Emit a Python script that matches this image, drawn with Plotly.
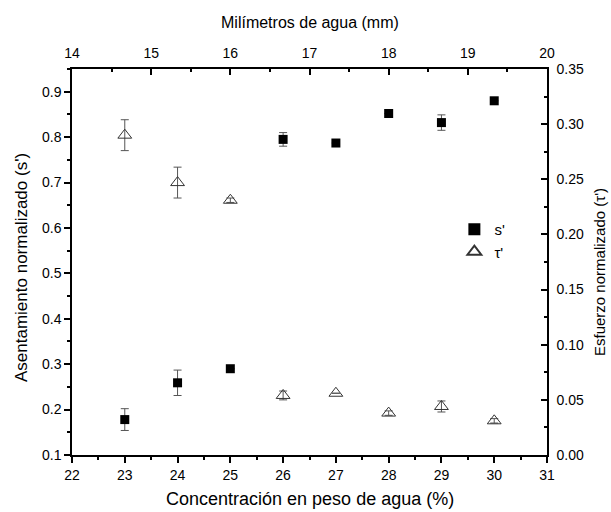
import plotly.graph_objects as go

conc = [23, 24, 25, 26, 27, 28, 29, 30]
s_vals = [0.178, 0.259, 0.290, 0.795, 0.787, 0.852, 0.832, 0.880]
s_err = [0.024, 0.028, 0.0, 0.015, 0.0, 0.0, 0.017, 0.0]
tau_vals = [0.290, 0.247, 0.231, 0.054, 0.056, 0.038, 0.044, 0.031]
tau_err = [0.014, 0.014, 0.002, 0.004, 0.0, 0.002, 0.005, 0.002]

title_bottom = "Concentración en peso de agua (%)"
title_top = "Milímetros de agua (mm)"
title_left = "Asentamiento normalizado (s')"
title_right = "Esfuerzo normalizado (τ')"

font = "Liberation Sans, Arial, sans-serif"
fig = go.Figure()
fig.add_trace(go.Scatter(
    x=conc, y=s_vals, mode="markers", name="s'",
    marker=dict(symbol="square", size=9, color="black"),
    error_y=dict(type="data", array=s_err, color="#555555", thickness=1, width=4),
    xaxis="x", yaxis="y"))
fig.add_trace(go.Scatter(
    x=conc, y=tau_vals, mode="markers", name="τ'",
    marker=dict(symbol="triangle-up-open", size=12, color="#333333", line=dict(width=1)),
    error_y=dict(type="data", array=tau_err, color="#555555", thickness=1, width=4),
    xaxis="x", yaxis="y2"))
fig.add_trace(go.Scatter(x=[None], y=[None], xaxis="x2", yaxis="y", showlegend=False, hoverinfo="skip"))

def ax(ticks, minor_dtick, **kw):
    d = dict(showline=True, linecolor="black", linewidth=1.5, ticks=ticks, ticklen=6,
             tickwidth=1.5, tickcolor="black", showgrid=False, zeroline=False, automargin=False,
             tickfont=dict(family=font, size=14, color="black"),
             minor=dict(ticks=ticks, ticklen=3, dtick=minor_dtick, tickcolor="black", tickwidth=1.5))
    d.update(kw)
    return d

def tf(size):
    return dict(family=font, size=size, color="black")

fig.update_layout(
    width=611, height=512,
    margin=dict(l=72, r=64, t=69, b=57),
    plot_bgcolor="white", paper_bgcolor="white",
    showlegend=True,
    legend=dict(x=0.805, y=0.627, xanchor="left", yanchor="top", bgcolor="rgba(0,0,0,0)",
                font=dict(family=font, size=15, color="black"), itemsizing="constant",
                tracegroupgap=0),
    xaxis=ax("outside", 0.5, range=[22, 31], dtick=1, tick0=22),
    xaxis2=ax("inside", 0.5, range=[14, 20], dtick=1, tick0=14, overlaying="x", side="top", anchor="y",
              ticklabelstandoff=4),
    yaxis=ax("outside", 0.05, range=[0.1, 0.95], dtick=0.1, tick0=0.1, tickformat=".1f"),
    yaxis2=ax("inside", 0.025, range=[0, 0.35], dtick=0.05, tick0=0, tickformat=".2f", overlaying="y",
              side="right", anchor="x", ticklabelstandoff=5),
    annotations=[
        dict(text=title_bottom, xref="paper", yref="paper", x=0.5, y=0, yshift=-44,
             xanchor="center", yanchor="middle", showarrow=False, font=tf(18)),
        dict(text=title_top, xref="paper", yref="paper", x=0.5, y=1, yshift=47,
             xanchor="center", yanchor="middle", showarrow=False, font=tf(16)),
        dict(text=title_left, xref="paper", yref="paper", x=0, y=0.5, xshift=-51, yshift=-6,
             xanchor="center", yanchor="middle", showarrow=False, textangle=-90, font=tf(17)),
        dict(text=title_right, xref="paper", yref="paper", x=1, y=0.5, xshift=52, yshift=-10,
             xanchor="center", yanchor="middle", showarrow=False, textangle=-90, font=tf(15)),
    ],
)
fig.write_html("out.html", config={"displayModeBar": False},
               post_script="document.body.style.margin='0';document.body.style.padding='0';")
